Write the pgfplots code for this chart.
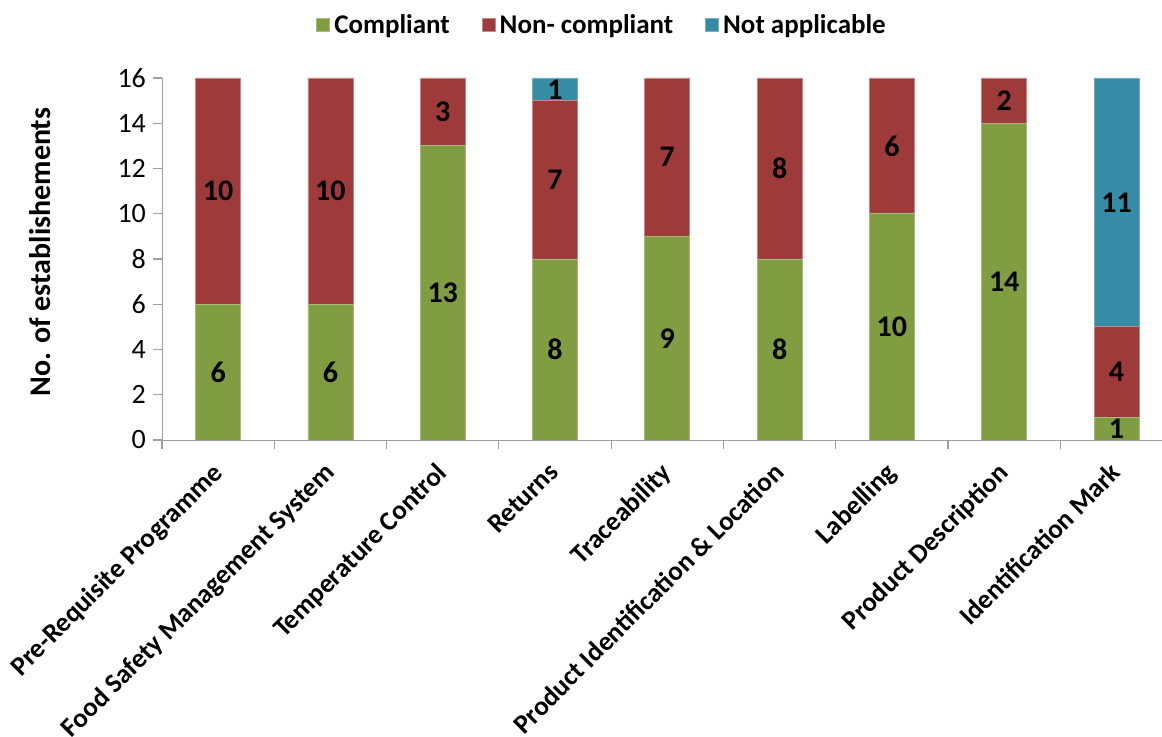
\documentclass[border=0pt]{standalone}
\usepackage{pgfplots}
\pgfplotsset{compat=1.18}
\usepackage{pgfplotstable}
\usepackage{fontspec}
\setmainfont{Carlito}
\definecolor{cgreen}{HTML}{809E41}
\definecolor{cred}{HTML}{9E3B3A}
\definecolor{cblue}{HTML}{378CA5}
\pgfplotstableread{
x C N A
0 6 10 0
1 6 10 0
2 13 3 0
3 8 7 1
4 9 7 0
5 8 8 0
6 10 6 0
7 14 2 0
8 1 4 11
}\data
\begin{document}
\begin{tikzpicture}
\path[use as bounding box] (-81pt,-148.5pt) rectangle (500pt,220pt);
\begin{axis}[
  at={(0,0)}, anchor=south west,
  scale only axis, width=500pt, height=181pt,
  ybar stacked, bar width=0.4,
  xmin=-0.5, xmax=8.405, ymin=0, ymax=16,
  ytick={0,2,...,16},
  xtick={-0.5,0.5,...,7.5},
  xticklabels={},
  extra x ticks={0,1,...,8},
  extra x tick labels={Pre-Requisite Programme,Food Safety Management System,Temperature Control,Returns,Traceability,Product Identification \& Location,Labelling,Product Description,Identification Mark},
  extra x tick style={major tick length=0pt, tick label style={rotate=45, anchor=north east, font=\bfseries\fontsize{13.5}{14}\selectfont, inner sep=2pt, xshift=-8pt, yshift=-2.5pt}},
  y tick label style={font=\fontsize{14}{14}\selectfont},
  /pgf/number format/assume math mode=true,
  axis x line*=bottom, axis y line*=left,
  axis line style={draw=gray!75},
  tick style={draw=gray!75, line width=0.6pt},
  tick align=outside, major tick length=4.5pt,
  ylabel={No. of establishements},
  ylabel style={at={(axis description cs:-0.122,0.519)}, anchor=center, font=\bfseries\fontsize{15}{15}\selectfont},
  legend style={at={(0.441,1.146)}, anchor=center, draw=none, legend columns=3,
    font=\bfseries\fontsize{13.5}{14}\selectfont,
    /tikz/every even column/.append style={column sep=14pt}},
  legend image code/.code={\fill[#1] (-2pt,-3.3pt) rectangle (4.6pt,3.3pt);},
  nodes near coords={\ifdim\val pt>0pt \pgfmathprintnumber[fixed,precision=0]{\val}\fi},
  every node near coord/.append style={anchor=center, font=\bfseries\fontsize{15}{15}\selectfont, text=black},
]
\addplot[fill=cgreen, draw=cgreen!70!white, line width=0.4pt, visualization depends on={\thisrow{C}\as\val}] table[x=x,y=C]{\data};
\addplot[fill=cred, draw=cred!60!white, line width=0.4pt, visualization depends on={\thisrow{N}\as\val}] table[x=x,y=N]{\data};
\addplot[fill=cblue, draw=cblue!70!white, line width=0.4pt, visualization depends on={\thisrow{A}\as\val}] table[x=x,y=A]{\data};
\legend{Compliant,Non- compliant,Not applicable}
\end{axis}
\end{tikzpicture}
\end{document}
